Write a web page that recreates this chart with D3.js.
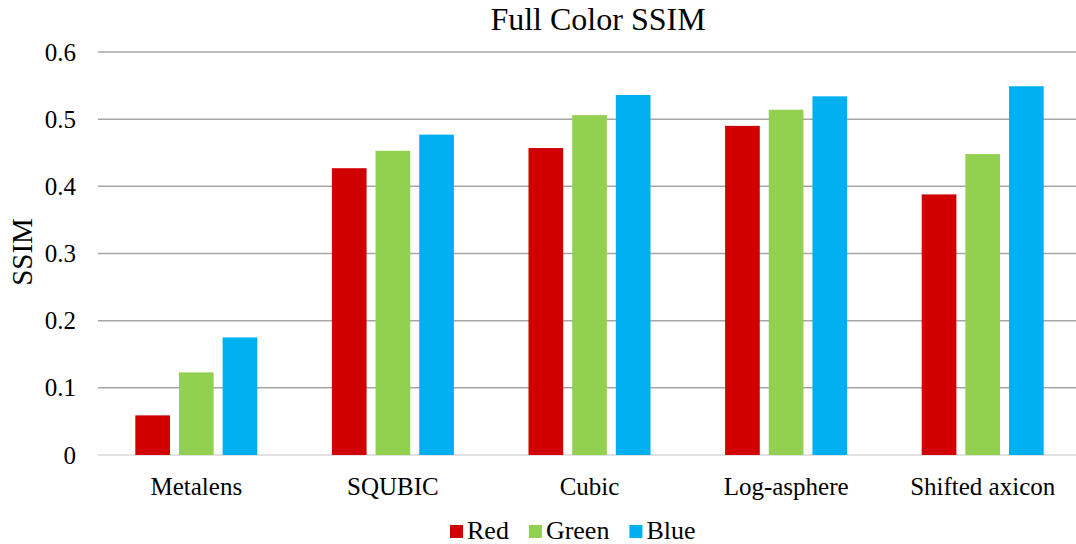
<!DOCTYPE html>
<html>
<head>
<meta charset="utf-8">
<script src="https://cdn.jsdelivr.net/npm/d3@7"></script>
<style>
  body { margin: 0; background: #fff; }
  text { font-family: "Liberation Serif", "Times New Roman", serif; fill: #000; }
</style>
</head>
<body>
<div id="chart"></div>
<script>
// data
const categories = ["Metalens", "SQUBIC", "Cubic", "Log-asphere", "Shifted axicon"];
const seriesNames = ["Red", "Green", "Blue"];
const seriesColors = ["#d00000", "#92d050", "#00b0f0"];
const redValues = [0.059, 0.427, 0.457, 0.490, 0.388];
const greenValues = [0.123, 0.453, 0.506, 0.514, 0.448];
const blueValues = [0.175, 0.477, 0.536, 0.534, 0.549];
const yTicks = [0, 0.1, 0.2, 0.3, 0.4, 0.5, 0.6];

const width = 1076, height = 544;
const margin = { top: 52, right: -5, bottom: 89, left: 98 };

const svg = d3.select("#chart").append("svg")
  .attr("width", width)
  .attr("height", height);

const x = d3.scaleBand()
  .domain(categories)
  .range([margin.left, width - margin.right]);

const y = d3.scaleLinear()
  .domain([0, 0.6])
  .range([height - margin.bottom, margin.top]);

const xSub = d3.scaleBand()
  .domain(seriesNames)
  .range([0, 122])
  .paddingInner(0.206);

// gridlines
svg.append("g")
  .selectAll("line")
  .data(yTicks)
  .join("line")
  .attr("x1", margin.left)
  .attr("x2", width)
  .attr("y1", d => y(d))
  .attr("y2", d => y(d))
  .attr("stroke", d => d === 0 ? "#d9d9d9" : "#a6a6a6")
  .attr("stroke-width", 1.5);

// y tick labels
const yAxis = svg.append("g")
  .attr("transform", `translate(${margin.left - 22},0)`)
  .call(d3.axisLeft(y).tickValues(yTicks).tickSize(0).tickPadding(0)
    .tickFormat(d => d === 0 ? "0" : d3.format(".1f")(d)));
yAxis.select(".domain").remove();
yAxis.selectAll("text")
  .style("font-family", "'Liberation Serif', serif")
  .style("font-size", "25px")
  .attr("fill", "#000");

// x labels
const xAxis = svg.append("g")
  .attr("transform", `translate(0,${height - margin.bottom})`)
  .call(d3.axisBottom(x).tickSize(0).tickPadding(22));
xAxis.select(".domain").remove();
xAxis.selectAll("text")
  .style("font-family", "'Liberation Serif', serif")
  .style("font-size", "25px")
  .attr("fill", "#000");

// bars
const table = categories.map((c, i) => ({
  category: c,
  values: [redValues[i], greenValues[i], blueValues[i]]
}));

const groupOffset = (x.bandwidth() - 122) / 2;

svg.append("g")
  .selectAll("g")
  .data(table)
  .join("g")
  .attr("transform", d => `translate(${x(d.category) + groupOffset},0)`)
  .selectAll("rect")
  .data(d => d.values.map((v, j) => ({ series: seriesNames[j], value: v, color: seriesColors[j] })))
  .join("rect")
  .attr("x", d => xSub(d.series))
  .attr("width", xSub.bandwidth())
  .attr("y", d => y(d.value))
  .attr("height", d => y(0) - y(d.value))
  .attr("fill", d => d.color);

// title
svg.append("text")
  .attr("x", 598)
  .attr("y", 30)
  .attr("text-anchor", "middle")
  .style("font-size", "32px")
  .text("Full Color SSIM");

// y axis title
svg.append("text")
  .attr("transform", "translate(32,252) rotate(-90)")
  .attr("text-anchor", "middle")
  .style("font-size", "29px")
  .text("SSIM");

// legend
const legend = svg.append("g").attr("transform", "translate(450,539)");
let lx = 0;
seriesNames.forEach((name, i) => {
  const item = legend.append("g").attr("transform", `translate(${lx},0)`);
  item.append("rect")
    .attr("x", 0)
    .attr("y", -14)
    .attr("width", 13)
    .attr("height", 13)
    .attr("fill", seriesColors[i]);
  const t = item.append("text")
    .attr("x", 17)
    .attr("y", 0)
    .style("font-size", "26px")
    .text(name);
  lx += 17 + t.node().getComputedTextLength() + 20;
});
</script>
</body>
</html>
